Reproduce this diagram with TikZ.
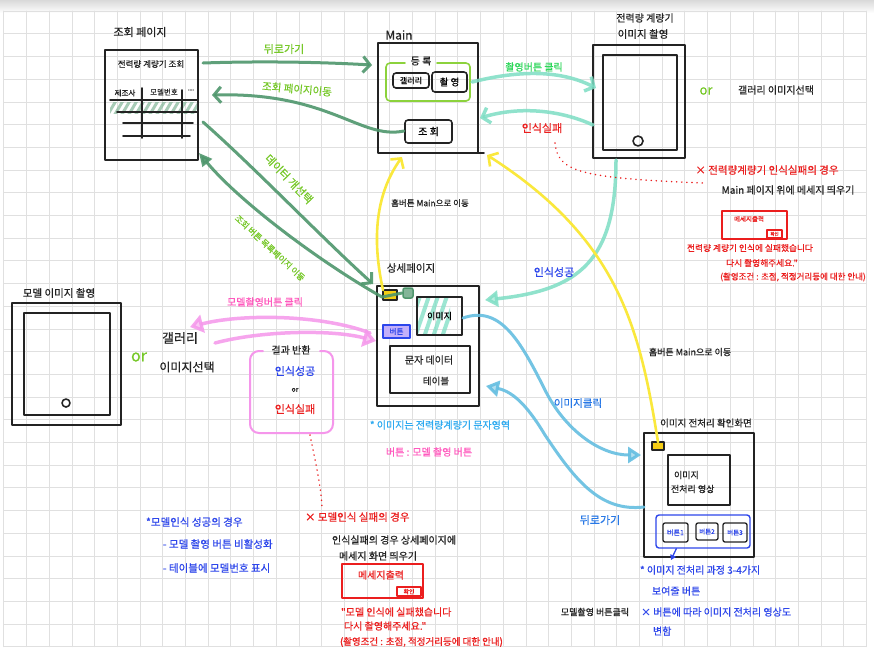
\documentclass[tikz,border=0pt]{standalone}
\usepackage{fontspec}
\newfontfamily\kr{Noto Sans CJK KR}[FakeBold=0.6]
\usetikzlibrary{arrows.meta}
\newcommand\fz[1]{\kr\fontsize{#1}{#1}\selectfont\baselineskip=1.2\baselineskip}
\definecolor{ink}{RGB}{35,35,35}
\definecolor{gridc}{RGB}{224,224,224}
\definecolor{dgreen}{RGB}{78,150,108}
\definecolor{lgreen}{RGB}{118,200,40}
\definecolor{bgreen}{RGB}{45,215,90}
\definecolor{boxgreen}{RGB}{140,210,60}
\definecolor{tealc}{RGB}{125,222,196}
\definecolor{yel}{RGB}{250,232,60}
\definecolor{sky}{RGB}{100,190,225}
\definecolor{pinkl}{RGB}{245,150,235}
\definecolor{pinkt}{RGB}{255,90,190}
\definecolor{redt}{RGB}{235,30,30}
\definecolor{bluet}{RGB}{45,70,235}
\definecolor{midblue}{RGB}{40,120,230}
\definecolor{cyant}{RGB}{45,170,240}
\definecolor{lav}{RGB}{195,175,250}
\definecolor{goldy}{RGB}{245,205,20}
\tikzset{
  pen/.style={draw=ink, line width=1.6pt},
  frame/.style={pen, inner sep=0pt, outer sep=0pt},
  txt/.style={inner sep=0pt, outer sep=0pt, text=ink},
  arrchev/.style={-{Straight Barb[length=7pt,width=16pt]}},
  gline/.style={draw=dgreen, line width=3pt, opacity=0.9},
  tline/.style={draw=tealc, line width=3.5pt, opacity=0.85},
  yline/.style={draw=yel, line width=2.6pt},
  sline/.style={draw=sky, line width=3pt, opacity=0.9},
  pline/.style={draw=pinkl, line width=3.5pt, opacity=0.85},
  rdot/.style={draw=redt, line width=1.6pt, dash pattern=on 0.1pt off 5pt},
  redbox/.style={draw=redt, line width=1.3pt, inner sep=0pt},
}
\begin{document}
\begin{tikzpicture}[x=1pt,y=-1pt,line cap=round,line join=round]
\useasboundingbox (0,0) rectangle (874,657);
\fill[white] (0,0) rectangle (874,657);
\shade[top color=gray!30, bottom color=white] (0,0) rectangle (874,13);
% grid
\foreach \i in {0,...,38} \draw[gridc, line width=0.8pt] ({3.8+22.7*\i},11.1) -- ({3.8+22.7*\i},646.7);
\foreach \j in {0,...,28} \draw[gridc, line width=0.8pt] (3.8,{11.1+22.7*\j}) -- (866.4,{11.1+22.7*\j});

% ===== 조회 페이지 =====
\node[txt, font=\fz{11}] (joLbl) at (140,32) {조회 페이지};
\node[frame, minimum width=93pt, minimum height=110pt] (jo) at (151.5,105) {};
\node[txt, font=\fz{8.5}] (joTitle) at (151,64) {전력량 계량기 조회};
\begin{scope}
\clip (110,102) rectangle (197,113);
\foreach \k in {0,...,13} \draw[dgreen!70, line width=3pt, opacity=0.7] ({100+7*\k},116) -- ({110+7*\k},99);
\end{scope}
\draw[pen] (110,100) -- (197,100);
\draw[pen] (117,112) -- (197,112);
\draw[pen] (123,123) -- (193,123);
\draw[pen] (123,136) -- (190,136);
\draw[pen] (142,88) -- (142,138);
\draw[pen] (182,90) -- (182,138);
\node[txt, font=\fz{7.5}] (colA) at (125,93) {제조사};
\node[txt, font=\fz{7.5}] (colB) at (164,92) {모델번호};
\node[txt, font=\fz{7.5}] (colC) at (191,90) {...};

% ===== Main =====
\node[txt, font=\fz{12}] (mainLbl) at (399,35) {Main};
\node[frame, minimum width=100pt, minimum height=110pt] (main) at (428,98) {};
\draw[pen] (main.south east) -- ++(6,0);
\draw[draw=boxgreen, line width=1.6pt, rounded corners=4pt] (405,63) -- (386,63) -- (386,101) -- (470,101) -- (470,63) -- (437,63);
\node[txt, font=\fz{10}] (reg) at (421,61) {등 록};
\node[frame, rounded corners=3pt, minimum width=36pt, minimum height=15pt, font=\fz{8}] (gal) at (411,80.5) {갤러리};
\node[frame, rounded corners=3pt, minimum width=35pt, minimum height=20pt, font=\fz{9.5}] (shoot) at (449.5,82) {촬 영};
\node[frame, rounded corners=3pt, minimum width=47pt, minimum height=23pt, font=\fz{10}] (joBtn) at (428.5,131.5) {조 회};

% ===== 전력량 계량기 이미지 촬영 =====
\node[txt, font=\fz{10}] (ph1Lbl1) at (645,18) {전력량 계량기};
\node[txt, font=\fz{10.5}] (ph1Lbl2) at (643,34) {이미지 촬영};
\node[frame, minimum width=92pt, minimum height=113pt] (ph1) at (639,101.5) {};
\node[frame, minimum width=74pt, minimum height=95pt] (ph1in) at (640,102.5) {};
\node[frame, circle, minimum size=10pt] (ph1btn) at (638,141) {};
\node[txt, font=\fz{13}, text=lgreen] (or1) at (706,91) {or};
\node[txt, font=\fz{10}] (galsel1) at (776,90) {갤러리 이미지선택};

\node[txt, font=\fz{10.5}, text=redt] (n1a) at (767,170) {× 전력량계량기 인식실패의 경우};
\node[txt, font=\fz{10}] (n1b) at (788,190) {Main 페이지 위에 메세지 띄우기};
\node[redbox, minimum width=65pt, minimum height=28pt] (msg1) at (754.5,225) {};
\node[txt, font=\fz{6.5}, text=redt] (msg1t) at (749,219) {메세지출력};
\node[redbox, minimum width=15pt, minimum height=8pt, font=\fz{4.5}, text=redt] (ok1) at (774.5,234) {확인};
\node[txt, font=\fz{8.7}, text=redt] (n1c) at (750,248) {전력량 계량기 인식에 실패했습니다};
\node[txt, font=\fz{8.7}, text=redt] (n1d) at (762,263) {다시 촬영해주세요."};
\node[txt, font=\fz{8.5}, text=redt] (n1e) at (793,277) {(촬영조건 : 초점, 적정거리등에 대한 안내)};

% ===== 상세페이지 =====
\node[txt, font=\fz{10.5}] (detLbl) at (411,268) {상세페이지};
\node[frame, minimum width=102pt, minimum height=120pt] (det) at (428,346) {};
\node[frame, fill=goldy, minimum width=14pt, minimum height=10pt] (detY) at (390,295) {};
\node[draw=dgreen, fill=dgreen!70, line width=1.5pt, rounded corners=2pt, inner sep=0pt, minimum size=10pt] (detG) at (408,293) {};
\begin{scope}
\clip (418,298) rectangle (450,335);
\foreach \k in {0,...,7} \draw[tealc, line width=4pt, opacity=0.75] ({405+9*\k},340) -- ({420+9*\k},296);
\end{scope}
\node[frame, minimum width=45pt, minimum height=38pt, font=\fz{9}] (detImg) at (439.5,316) {이미지};
\node[draw=bluet, fill=lav, line width=1.3pt, inner sep=0pt, minimum width=27pt, minimum height=13pt, font=\fz{7.5}, text=bluet] (detBtn) at (396.5,331.5) {버튼};
\node[frame, minimum width=80pt, minimum height=47pt] (detTbl) at (430,369.5) {};
\node[txt, font=\fz{10}] (detT1) at (429,360) {문자 데이터};
\node[txt, font=\fz{9.5}] (detT2) at (436,381) {테이블};
\node[txt, font=\fz{10}, text=cyant] (detN1) at (440,425) {* 이미지는 전력량계량기 문자영역};
\node[txt, font=\fz{10}, text=pinkt] (detN2) at (429,452) {버튼 : 모델 촬영 버튼};

% ===== 모델 이미지 촬영 =====
\node[txt, font=\fz{10.5}] (ph2Lbl) at (59,293) {모델 이미지 촬영};
\node[frame, minimum width=109pt, minimum height=122pt] (ph2) at (66.5,364) {};
\node[frame, minimum width=86pt, minimum height=102pt] (ph2in) at (67,364) {};
\node[frame, circle, minimum size=8pt] (ph2btn) at (66,403) {};
\node[txt, font=\fz{16}, text=lgreen] (or2) at (139,357) {or};
\node[txt, font=\fz{13}] (gal2a) at (180,338) {갤러리};
\node[txt, font=\fz{12}] (gal2b) at (187,367) {이미지선택};
\node[txt, font=\fz{10}, text=pinkt] (pinkLbl) at (265,302) {모델촬영버튼 클릭};
\draw[draw=pinkl, line width=2pt, rounded corners=9pt] (263,351) -- (250,351) -- (250,433) -- (333,433) -- (333,351) -- (320,351);
\node[txt, font=\fz{10}] (resLbl) at (291,350) {결과 반환};
\node[txt, font=\fz{11}, text=bluet] (resOk) at (295,371) {인식성공};
\node[txt, font=\fz{7}] (resOr) at (295,390) {or};
\node[txt, font=\fz{11}, text=redt] (resFail) at (295,409) {인식실패};

\node[txt, font=\fz{10.5}, text=bluet, anchor=west] (sn1) at (146,522) {*모델인식 성공의 경우};
\node[txt, font=\fz{10.5}, text=bluet, anchor=west] (sn2) at (163,544) {- 모델 촬영 버튼 비활성화};
\node[txt, font=\fz{10.5}, text=bluet, anchor=west] (sn3) at (163,568) {- 테이블에 모델번호 표시};

\node[txt, font=\fz{10.5}, text=redt, anchor=west] (fn1) at (305,517) {× 모델인식 실패의 경우};
\node[txt, font=\fz{10}, anchor=west] (fn2) at (332,540) {인식실패의 경우 상세페이지에};
\node[txt, font=\fz{10}, anchor=west] (fn3) at (339,556) {메세지 화면 띄우기};
\node[redbox, minimum width=81pt, minimum height=34pt] (msg2) at (382.5,581) {};
\node[txt, font=\fz{10}, text=redt] (msg2t) at (381,575) {메세지출력};
\node[redbox, minimum width=24pt, minimum height=9pt, font=\fz{6}, text=redt] (ok2) at (409,591.5) {확인};
\node[txt, font=\fz{10}, text=redt, anchor=west] (fn4) at (341,612) {"모델 인식에 실패했습니다};
\node[txt, font=\fz{10}, text=redt, anchor=west] (fn5) at (344,626) {다시 촬영해주세요."};
\node[txt, font=\fz{9.5}, text=redt, anchor=west] (fn6) at (340,642) {(촬영조건 : 초점, 적정거리등에 대한 안내)};

% ===== 이미지 전처리 확인화면 =====
\node[txt, font=\fz{9.5}] (preLbl) at (706,423) {이미지 전처리 확인화면};
\node[frame, minimum width=110pt, minimum height=124pt] (pre) at (699,495) {};
\node[frame, fill=goldy, minimum width=12pt, minimum height=8pt] (preY) at (658,446) {};
\node[frame, minimum width=62pt, minimum height=50pt] (preImg) at (699,480) {};
\node[txt, font=\fz{9}, anchor=west] (preT1) at (674,475) {이미지};
\node[txt, font=\fz{9}, anchor=west] (preT2) at (671,489) {전처리 영상};
\node[draw=bluet, line width=1.4pt, rounded corners=3pt, inner sep=0pt, minimum width=94pt, minimum height=33pt] (grp) at (703,531.5) {};
\node[draw=ink, line width=1.3pt, rounded corners=2pt, inner sep=0pt, minimum width=25pt, minimum height=19pt, font=\fz{7}, text=bluet] (b1) at (675.5,532.5) {버튼1};
\node[draw=ink, line width=1.3pt, rounded corners=2pt, inner sep=0pt, minimum width=22pt, minimum height=17pt, font=\fz{6.5}, text=bluet] (b2) at (707,531.5) {버튼2};
\node[draw=ink, line width=1.3pt, rounded corners=2pt, inner sep=0pt, minimum width=24pt, minimum height=19pt, font=\fz{6.5}, text=bluet] (b3) at (735,532.5) {버튼3};
\node[txt, font=\fz{10}, text=bluet, anchor=west] (pn1) at (640,570) {* 이미지 전처리 과정 3-4가지};
\node[txt, font=\fz{10}, text=bluet, anchor=west] (pn2) at (652,591) {보여줄 버튼};
\node[txt, font=\fz{10}, text=bluet, anchor=west] (pn3) at (641,612) {× 버튼에 따라 이미지 전처리 영상도};
\node[txt, font=\fz{10}, text=bluet, anchor=west] (pn4) at (653,631) {변함};
\node[txt, font=\fz{9}] (pn0) at (595,612) {모델촬영 버튼클릭};
\coordinate (grpTip) at (671,560);
\draw[draw=bluet, line width=1.3pt, -{Triangle[length=5pt,width=6pt]}] (grp.south west) ++(21,0) -- (grpTip);

% ===== connectors =====
\coordinate (cBackS) at (203,63);
\coordinate (cBackE) at (372,65);
\draw[gline, arrchev] (cBackS) .. controls (260,61) and (320,62) .. (cBackE);

\coordinate (cJoS) at (404,131);
\coordinate (cJoE) at (212,95);
\draw[gline, arrchev] (cJoS) .. controls (360,140) and (330,92) .. (cJoE);

\coordinate (cDataS) at (203,122);
\coordinate (cDataE) at (373,284);
\draw[gline, arrchev] (cDataS) .. controls (255,168) and (320,236) .. (cDataE);

\coordinate (cListE) at (199,153);
\draw[gline, -{Triangle[length=13pt,width=12pt]}] (detG.west) -- (382,297) .. controls (320,262) and (240,202) .. (cListE);

\coordinate (cShootS) at (472,82);
\coordinate (cShootE) at (596,88);
\draw[tline, arrchev] (cShootS) .. controls (520,70) and (560,70) .. (cShootE);

\coordinate (cFailS) at (593,125);
\coordinate (cFailE) at (480,118);
\draw[tline, arrchev] (cFailS) .. controls (560,110) and (520,106) .. (cFailE);

\coordinate (cOkS) at (616,160);
\coordinate (cOkE) at (485,300);
\draw[tline, -{Triangle[length=13pt,width=16pt,fill=tealc!60]}] (cOkS) .. controls (616,260) and (580,290) .. (cOkE);

\coordinate (cHome1E) at (402,157);
\draw[yline, arrchev] (detY.north west) .. controls (372,240) and (375,195) .. (cHome1E);

\coordinate (cHome2E) at (487,155);
\draw[yline, arrchev] (preY.north) .. controls (640,330) and (620,240) .. (cHome2E);

\coordinate (cClickS) at (463,318);
\coordinate (cClickE) at (641,455);
\draw[sline, -{Triangle[length=13pt,width=16pt,fill=sky!55]}] (cClickS) .. controls (500,305) and (520,340) .. (545,390) .. controls (565,430) and (600,455) .. (cClickE);

\coordinate (cBack2S) at (644,507);
\coordinate (cBack2E) at (486,386);
\draw[sline, -{Triangle[length=13pt,width=16pt,fill=sky!55]}] (cBack2S) .. controls (600,512) and (575,480) .. (545,435) .. controls (530,410) and (515,392) .. (cBack2E);

\coordinate (cPinkAS) at (370,333);
\coordinate (cPinkAE) at (190,327);
\draw[pline, -{Triangle[length=13pt,width=18pt,fill=pinkl!60]}] (cPinkAS) .. controls (320,314) and (240,314) .. (cPinkAE);
\coordinate (cPinkBS) at (215,343);
\coordinate (cPinkBE) at (376,341);
\draw[pline, -{Triangle[length=13pt,width=18pt,fill=pinkl!60]}] (cPinkBS) .. controls (260,331) and (330,329) .. (cPinkBE);

\coordinate (cDot1S) at (555,143);
\coordinate (cDot1E) at (703,183);
\draw[rdot] (cDot1S) .. controls (558,172) and (580,178) .. (cDot1E);
\coordinate (cDot2S) at (310,435);
\coordinate (cDot2E) at (322,510);
\draw[rdot] (cDot2S) .. controls (315,460) and (322,490) .. (cDot2E);

% ===== connector labels =====
\node[txt, font=\fz{11}, text=lgreen] (lblBack) at (284,49) {뒤로가기};
\node[txt, font=\fz{10.5}, text=lgreen, rotate=-5] (lblJo) at (297,89) {조회 페이지이동};
\node[txt, font=\fz{11}, text=lgreen, rotate=-46] (lblData) at (289,179) {데이터 개선택};
\node[txt, font=\fz{8.5}, text=lgreen, rotate=-43] (lblJoBtn) at (270,248) {조회 버튼 목록페이지 이동};
\node[txt, font=\fz{10}, text=bgreen] (lblShoot) at (534,67) {촬영버튼 클릭};
\node[txt, font=\fz{11}, text=redt] (lblFail) at (542,128) {인식실패};
\node[txt, font=\fz{11}, text=bluet] (lblOk) at (554,272) {인식성공};
\node[txt, font=\fz{8.5}] (lblHome1) at (430,203) {홈버튼 Main으로 이동};
\node[txt, font=\fz{9}] (lblHome2) at (690,352) {홈버튼 Main으로 이동};
\node[txt, font=\fz{10.5}, text=midblue] (lblClick) at (578,403) {이미지클릭};
\node[txt, font=\fz{11}, text=midblue] (lblBack2) at (600,520) {뒤로가기};
\end{tikzpicture}
\end{document}
